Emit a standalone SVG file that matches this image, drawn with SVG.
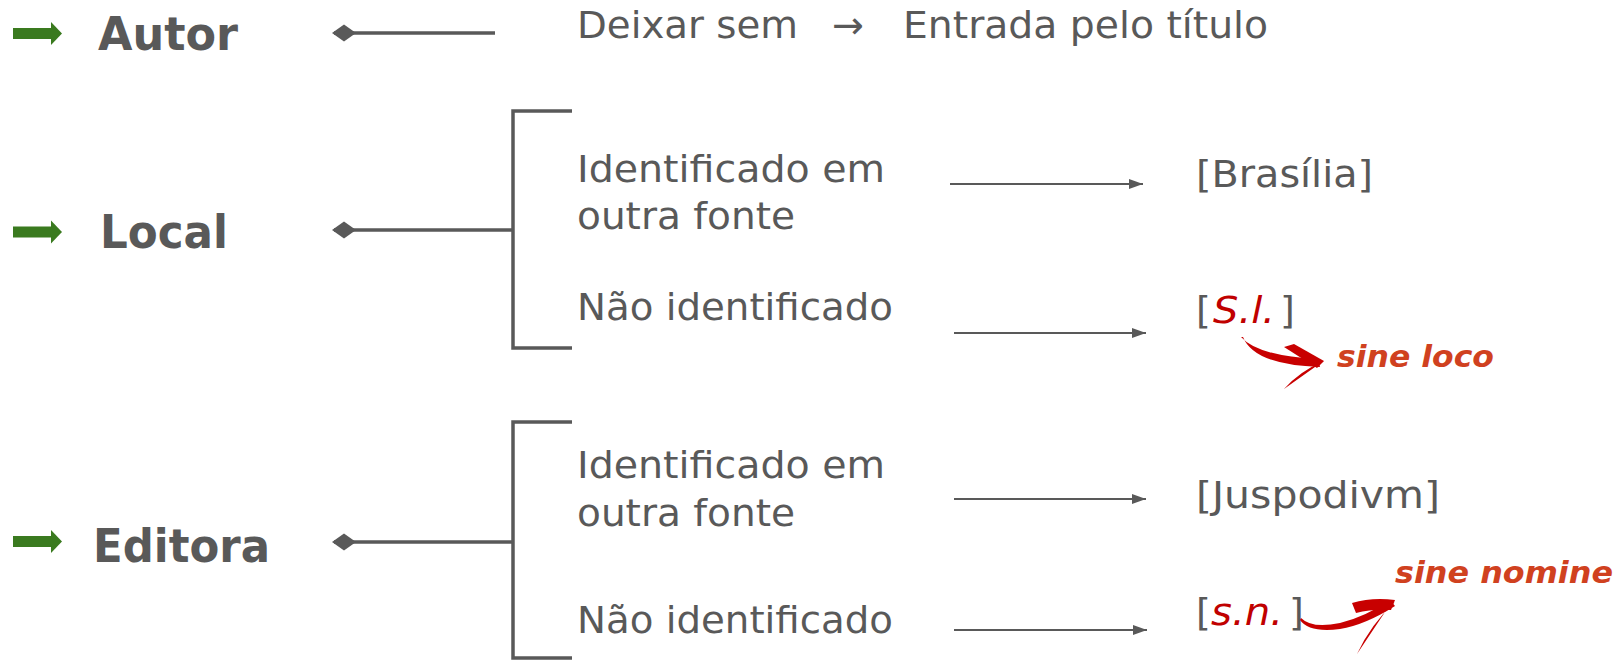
<svg xmlns="http://www.w3.org/2000/svg" width="1616" height="660" viewBox="0 0 1616 660">
<style>
.hd{font-family:"DejaVu Sans","Verdana",sans-serif;font-weight:bold;font-size:47px;fill:#595959}
.tx{font-family:"DejaVu Sans","Verdana",sans-serif;font-size:38px;fill:#595959}
.it{font-family:"DejaVu Sans","Verdana",sans-serif;font-style:italic;fill:#C00000}
.lat{font-family:"DejaVu Sans","Verdana",sans-serif;font-weight:bold;font-style:italic;font-size:31px;fill:#D0411F}
.ln{stroke:#595959;stroke-width:3.5;fill:none}
.ar{stroke:#595959;stroke-width:2.2;fill:none}
.grn{fill:#3A7A1F}
.red{fill:#C80000}
</style>
<defs>
<marker id="dia" markerUnits="userSpaceOnUse" markerWidth="26" markerHeight="20" refX="2" refY="9" orient="auto">
<polygon points="0,9 12,0.5 24,9 12,17.5" fill="#595959"/>
</marker>
<marker id="tri" markerUnits="userSpaceOnUse" markerWidth="16" markerHeight="12" refX="14" refY="5" orient="auto">
<polygon points="0,0 14,5 0,10" fill="#595959"/>
</marker>
<g id="garrow">
<rect x="13" y="-5.5" width="39" height="11"/>
<polygon points="51,-11.5 62,0 51,11.5"/>
</g>
</defs>

<g id="autor">
<use href="#garrow" class="grn" transform="translate(0,33.5)"/>
<text class="hd" x="98" y="50" textLength="140" lengthAdjust="spacingAndGlyphs">Autor</text>
</g>
<g id="local">
<use href="#garrow" class="grn" transform="translate(0,232)"/>
<text class="hd" x="100" y="248" textLength="128" lengthAdjust="spacingAndGlyphs">Local</text>
</g>
<g id="editora">
<use href="#garrow" class="grn" transform="translate(0,541.5)"/>
<text class="hd" x="93" y="562" textLength="177" lengthAdjust="spacingAndGlyphs">Editora</text>
</g>

<g id="deixar-sem">
<text class="tx" x="577" y="38" textLength="221" lengthAdjust="spacingAndGlyphs">Deixar sem</text>
<text class="tx" x="832" y="38">→</text>
<text class="tx" x="903" y="38" textLength="365" lengthAdjust="spacingAndGlyphs">Entrada pelo título</text>
</g>

<g id="local-identificado">
<text class="tx" x="577" y="182" textLength="308" lengthAdjust="spacingAndGlyphs">Identificado em</text>
<text class="tx" x="577" y="229" textLength="218" lengthAdjust="spacingAndGlyphs">outra fonte</text>
</g>
<g id="local-nao">
<text class="tx" x="577" y="320" textLength="316" lengthAdjust="spacingAndGlyphs">Não identificado</text>
</g>
<g id="editora-identificado">
<text class="tx" x="577" y="478" textLength="308" lengthAdjust="spacingAndGlyphs">Identificado em</text>
<text class="tx" x="577" y="526" textLength="218" lengthAdjust="spacingAndGlyphs">outra fonte</text>
</g>
<g id="editora-nao">
<text class="tx" x="577" y="633" textLength="316" lengthAdjust="spacingAndGlyphs">Não identificado</text>
</g>

<g id="brasilia">
<text class="tx" x="1196" y="187" textLength="177" lengthAdjust="spacingAndGlyphs">[Brasília]</text>
</g>
<g id="sl">
<text class="tx" y="323"><tspan x="1196">[</tspan><tspan class="it" x="1213" textLength="62" lengthAdjust="spacingAndGlyphs">S.l.</tspan><tspan x="1280">]</tspan></text>
</g>
<g id="juspodivm">
<text class="tx" x="1196" y="508" textLength="244" lengthAdjust="spacingAndGlyphs">[Juspodivm]</text>
</g>
<g id="sn">
<text class="tx" y="625"><tspan x="1196">[</tspan><tspan class="it" x="1211" textLength="72" lengthAdjust="spacingAndGlyphs">s.n.</tspan><tspan x="1289">]</tspan></text>
</g>
<g id="sine-loco">
<text class="lat" x="1337" y="367" textLength="157" lengthAdjust="spacingAndGlyphs">sine loco</text>
</g>
<g id="sine-nomine">
<text class="lat" x="1395" y="583" textLength="218" lengthAdjust="spacingAndGlyphs">sine nomine</text>
</g>

<g id="connectors">
<line class="ln" x1="334" y1="33" x2="495" y2="33" marker-start="url(#dia)"/>
<line class="ln" x1="334" y1="230" x2="513" y2="230" marker-start="url(#dia)"/>
<line class="ln" x1="334" y1="542" x2="513" y2="542" marker-start="url(#dia)"/>
<path class="ln" d="M572,111 H513 V348 H572"/>
<path class="ln" d="M572,422 H513 V658 H572"/>
<line class="ar" x1="950" y1="184" x2="1143" y2="184" marker-end="url(#tri)"/>
<line class="ar" x1="954" y1="333" x2="1146" y2="333" marker-end="url(#tri)"/>
<line class="ar" x1="954" y1="499" x2="1146" y2="499" marker-end="url(#tri)"/>
<line class="ar" x1="954" y1="630" x2="1147" y2="630" marker-end="url(#tri)"/>
<g class="red">
<path d="M1241,337 Q1258,356 1318,359 L1320,367 Q1254,365 1243,337 Z"/>
<path d="M1284,347 L1294,344 L1324,361 L1317,368 Z"/>
<path d="M1324,361 L1315,367 L1284,389 Q1300,371 1324,361 Z"/>
<path d="M1301,618 Q1312,629 1340,623 Q1365,617 1390,600 L1395,606 Q1365,625 1340,629 Q1309,633 1300,620 Z"/>
<path d="M1352,603 Q1372,597 1395,600 L1391,610 Q1372,609 1356,613 Z"/>
<path d="M1395,602 L1387,609 L1357,654 Q1371,624 1395,602 Z"/>
</g>
</g>
</svg>
